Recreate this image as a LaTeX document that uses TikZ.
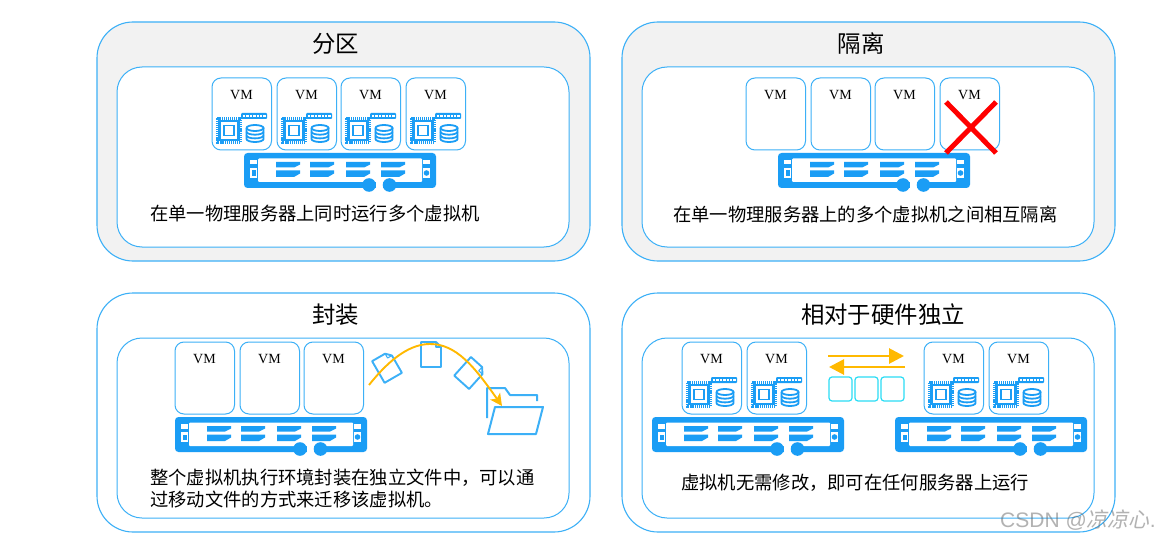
\documentclass[tikz,border=0pt]{standalone}
\usepackage{fontspec}
\usetikzlibrary{arrows.meta}
\setmainfont{Noto Sans CJK SC}
\newfontfamily\vmfont{Liberation Serif}
\newfontfamily\wmfont{Liberation Sans}
\newfontfamily\wmcjk[FakeSlant=0.2]{Noto Sans CJK SC}
\definecolor{lineblue}{HTML}{3CB0F7}
\definecolor{srvblue}{HTML}{1A9DF5}
\definecolor{boxcyan}{HTML}{2BDDF5}
\definecolor{arrowgold}{HTML}{FFB900}
\tikzstyle{outerpanel}=[draw=lineblue,line width=1.1pt,rounded corners=36,anchor=north west,minimum width=493,minimum height=239,outer sep=0pt]
\tikzstyle{innerpanel}=[draw=lineblue,line width=1pt,fill=white,rounded corners=25,anchor=north west,minimum width=452,minimum height=180,outer sep=0pt]
\tikzstyle{vmshape}=[draw=lineblue,line width=1pt,fill=white,rounded corners=9,anchor=north west,minimum width=59.5,minimum height=72,outer sep=0pt]
\tikzstyle{vmlabel}=[font=\vmfont\fontsize{14}{16}\selectfont,inner sep=0pt]
\tikzstyle{smallbox}=[draw=boxcyan,line width=1.2pt,rounded corners=3,anchor=north west,minimum width=23,minimum height=24,outer sep=0pt]
\tikzstyle{title}=[font=\fontsize{23.4}{27}\selectfont,inner sep=0pt]
\tikzstyle{caption}=[font=\fontsize{18.3}{22}\selectfont,inner sep=0pt,anchor=west]
\tikzstyle{goldline}=[draw=arrowgold,line width=2.8pt]
\tikzstyle{docline}=[draw=lineblue,line width=1.9pt,line join=round]
\tikzstyle{chipline}=[draw=srvblue,line width=1.8pt]
\tikzset{
  vmbox/.pic={
    \node[vmshape] (-box) at (0,0) {};
    \node[vmlabel] (-label) at (29.5,17) {VM};
  },
  vmicons/.pic={
    \draw[srvblue,line width=2.6pt,dash pattern=on 1.2pt off 0.9pt] (5,40.5) rectangle (29,64.5);
    \draw[srvblue,line width=2.4pt,fill=white] (7.5,43) rectangle (26.5,62);
    \draw[srvblue,line width=1.7pt] (12,47.5) rectangle (22,57.5);
    \fill[srvblue,rounded corners=1] (29,35) rectangle (55,41);
    \draw[white,line width=1.4pt,dash pattern=on 2.4pt off 1pt] (31,38) -- (54,38);
    \draw[chipline] (34.5,50) arc[start angle=180,end angle=540,x radius=8.5,y radius=3];
    \draw[chipline] (34.5,50) -- (34.5,61) arc[start angle=180,end angle=0,x radius=8.5,y radius=3] -- (51.5,50);
    \draw[chipline] (34.5,53.7) arc[start angle=180,end angle=0,x radius=8.5,y radius=3];
    \draw[chipline] (34.5,57.4) arc[start angle=180,end angle=0,x radius=8.5,y radius=3];
  },
  drive/.pic={
    \fill[srvblue] (0,0) -- (24,0) -- (24,2.5) -- (18,5.5) -- (0,5.5) -- cycle;
    \fill[srvblue] (0,8.5) -- (24,8.5) -- (24,11.5) -- (18,15) -- (0,15) -- cycle;
  },
  serverbox/.pic={
    \fill[srvblue,rounded corners=3.5] (0,0) rectangle (192,35);
    \fill[white,rounded corners=1] (14,5.5) rectangle (178,29);
    \fill[white] (6,7) rectangle (13,11.5);
    \fill[white] (6,15) rectangle (13,25);
    \fill[white] (179,7) rectangle (186,11.5);
    \fill[white] (179,15) rectangle (186,25);
    \fill[srvblue] (7.5,17.5) rectangle (11.5,23);
    \fill[srvblue] (182.5,20) circle[radius=2.8];
    \fill[white] (132,28) rectangle (139,36);
    \fill[srvblue] (125,32) circle[radius=6.8];
    \fill[srvblue] (145.5,32) circle[radius=6.8];
    \pic at (32,9) {drive};
    \pic at (66,9) {drive};
    \pic at (102,9) {drive};
    \pic at (137,9) {drive};
  },
  docicon/.pic={
    \draw[docline] (-10,-12.5) -- (5,-12.5) -- (10,-7.5) -- (10,12.5) -- (-10,12.5) -- cycle;
    \draw[docline,line width=1.1pt] (5,-12.5) -- (5,-7.5) -- (10,-7.5);
  }
}

\begin{document}
\begin{tikzpicture}[x=1pt,y=-1pt]
      \useasboundingbox[fill=white] (0,0) rectangle (1161,540);

      \begin{scope}
        \node[outerpanel,fill=black!5] (p1) at (97,22) {};
        \node[innerpanel] (q1) at (117,67) {};
        \node[title] (t1) at (335.5,44) {分区};
        \foreach \x/\n in {212/1,277/2,341/3,406/4} {
          \pic (a\n) at (\x,78) {vmbox};
          \pic at (\x,78) {vmicons};
        }
        \pic (s1) at (244,153) {serverbox};
        \node[caption] (c1) at (150,214) {在单一物理服务器上同时运行多个虚拟机};
      \end{scope}

      \begin{scope}
        \node[outerpanel,fill=black!5] (p2) at (622,22) {};
        \node[innerpanel] (q2) at (642,67) {};
        \node[title] (t2) at (861,44) {隔离};
        \foreach \x/\n in {746/1,811/2,875/3,940/4} {
          \pic (b\n) at (\x,78) {vmbox};
        }
        \pic (s2) at (778,153) {serverbox};
        \coordinate (x1) at (946,102);
        \coordinate (x2) at (996,153);
        \coordinate (x3) at (996,102);
        \coordinate (x4) at (946,153);
        \draw[red,line width=5pt] (x1) -- (x2);
        \draw[red,line width=5pt] (x3) -- (x4);
        \node[caption] (c2) at (673,214) {在单一物理服务器上的多个虚拟机之间相互隔离};
      \end{scope}

      \begin{scope}
        \node[outerpanel] (p3) at (97,293) {};
        \node[innerpanel] (q3) at (117,338) {};
        \node[title] (t3) at (335.5,315) {封装};
        \foreach \x/\n in {175/1,240/2,304/3} {
          \pic (c\n) at (\x,342) {vmbox};
        }
        \pic (s3) at (175,417) {serverbox};
        \pic[rotate=30] at (387,367) {docicon};
        \pic at (431,354.5) {docicon};
        \pic[rotate=-42] at (470,373) {docicon};
        \draw[docline,line width=2pt] (487,418) -- (487,388) -- (505,388) -- (510,395) -- (537,395) -- (537,401);
        \draw[docline,line width=2pt] (495,407) -- (543,407) -- (536,434) -- (488,434) -- cycle;
        \coordinate (m1) at (369,385);
        \coordinate (m2) at (430,344);
        \coordinate (m3) at (502,406);
        \draw[draw=arrowgold,line width=1.9pt,-{Stealth[length=12pt,width=12pt,inset=3pt]}] (m1) .. controls (392,356) and (412,344) .. (m2) .. controls (456,344) and (474,366) .. (m3);
        \node[caption] (c3) at (150,478) {整个虚拟机执行环境封装在独立文件中，可以通};
        \node[caption] (c4) at (150,500) {过移动文件的方式来迁移该虚拟机。};
      \end{scope}

      \begin{scope}
        \node[outerpanel] (p4) at (622,293) {};
        \node[innerpanel] (q4) at (642,338) {};
        \node[title] (t4) at (883,315) {相对于硬件独立};
        \foreach \x/\n in {682/1,747/2,924/3,989/4} {
          \pic (d\n) at (\x,342) {vmbox};
          \pic at (\x,342) {vmicons};
        }
        \pic (s4) at (652,417) {serverbox};
        \pic (s5) at (895,417) {serverbox};
        \coordinate (r1) at (828,356);
        \coordinate (r2) at (904,356);
        \coordinate (l1) at (905,367);
        \coordinate (l2) at (829,367);
        \draw[goldline,-{Triangle[length=15pt,width=15pt]}] (r1) -- (r2);
        \draw[goldline,-{Triangle[length=15pt,width=15pt]}] (l1) -- (l2);
        \node[smallbox] (k1) at (829,377) {};
        \node[smallbox] (k2) at (855,377) {};
        \node[smallbox] (k3) at (881,377) {};
        \node[caption] (c5) at (681,483) {虚拟机无需修改，即可在任何服务器上运行};
      \end{scope}

      \node[font=\fontsize{21}{24}\selectfont,text=black!60,opacity=0.5,inner sep=0pt,anchor=west] (w1) at (1000,520) {\wmfont CSDN @\wmcjk 凉凉心\wmfont .};
    \end{tikzpicture}
\end{document}
